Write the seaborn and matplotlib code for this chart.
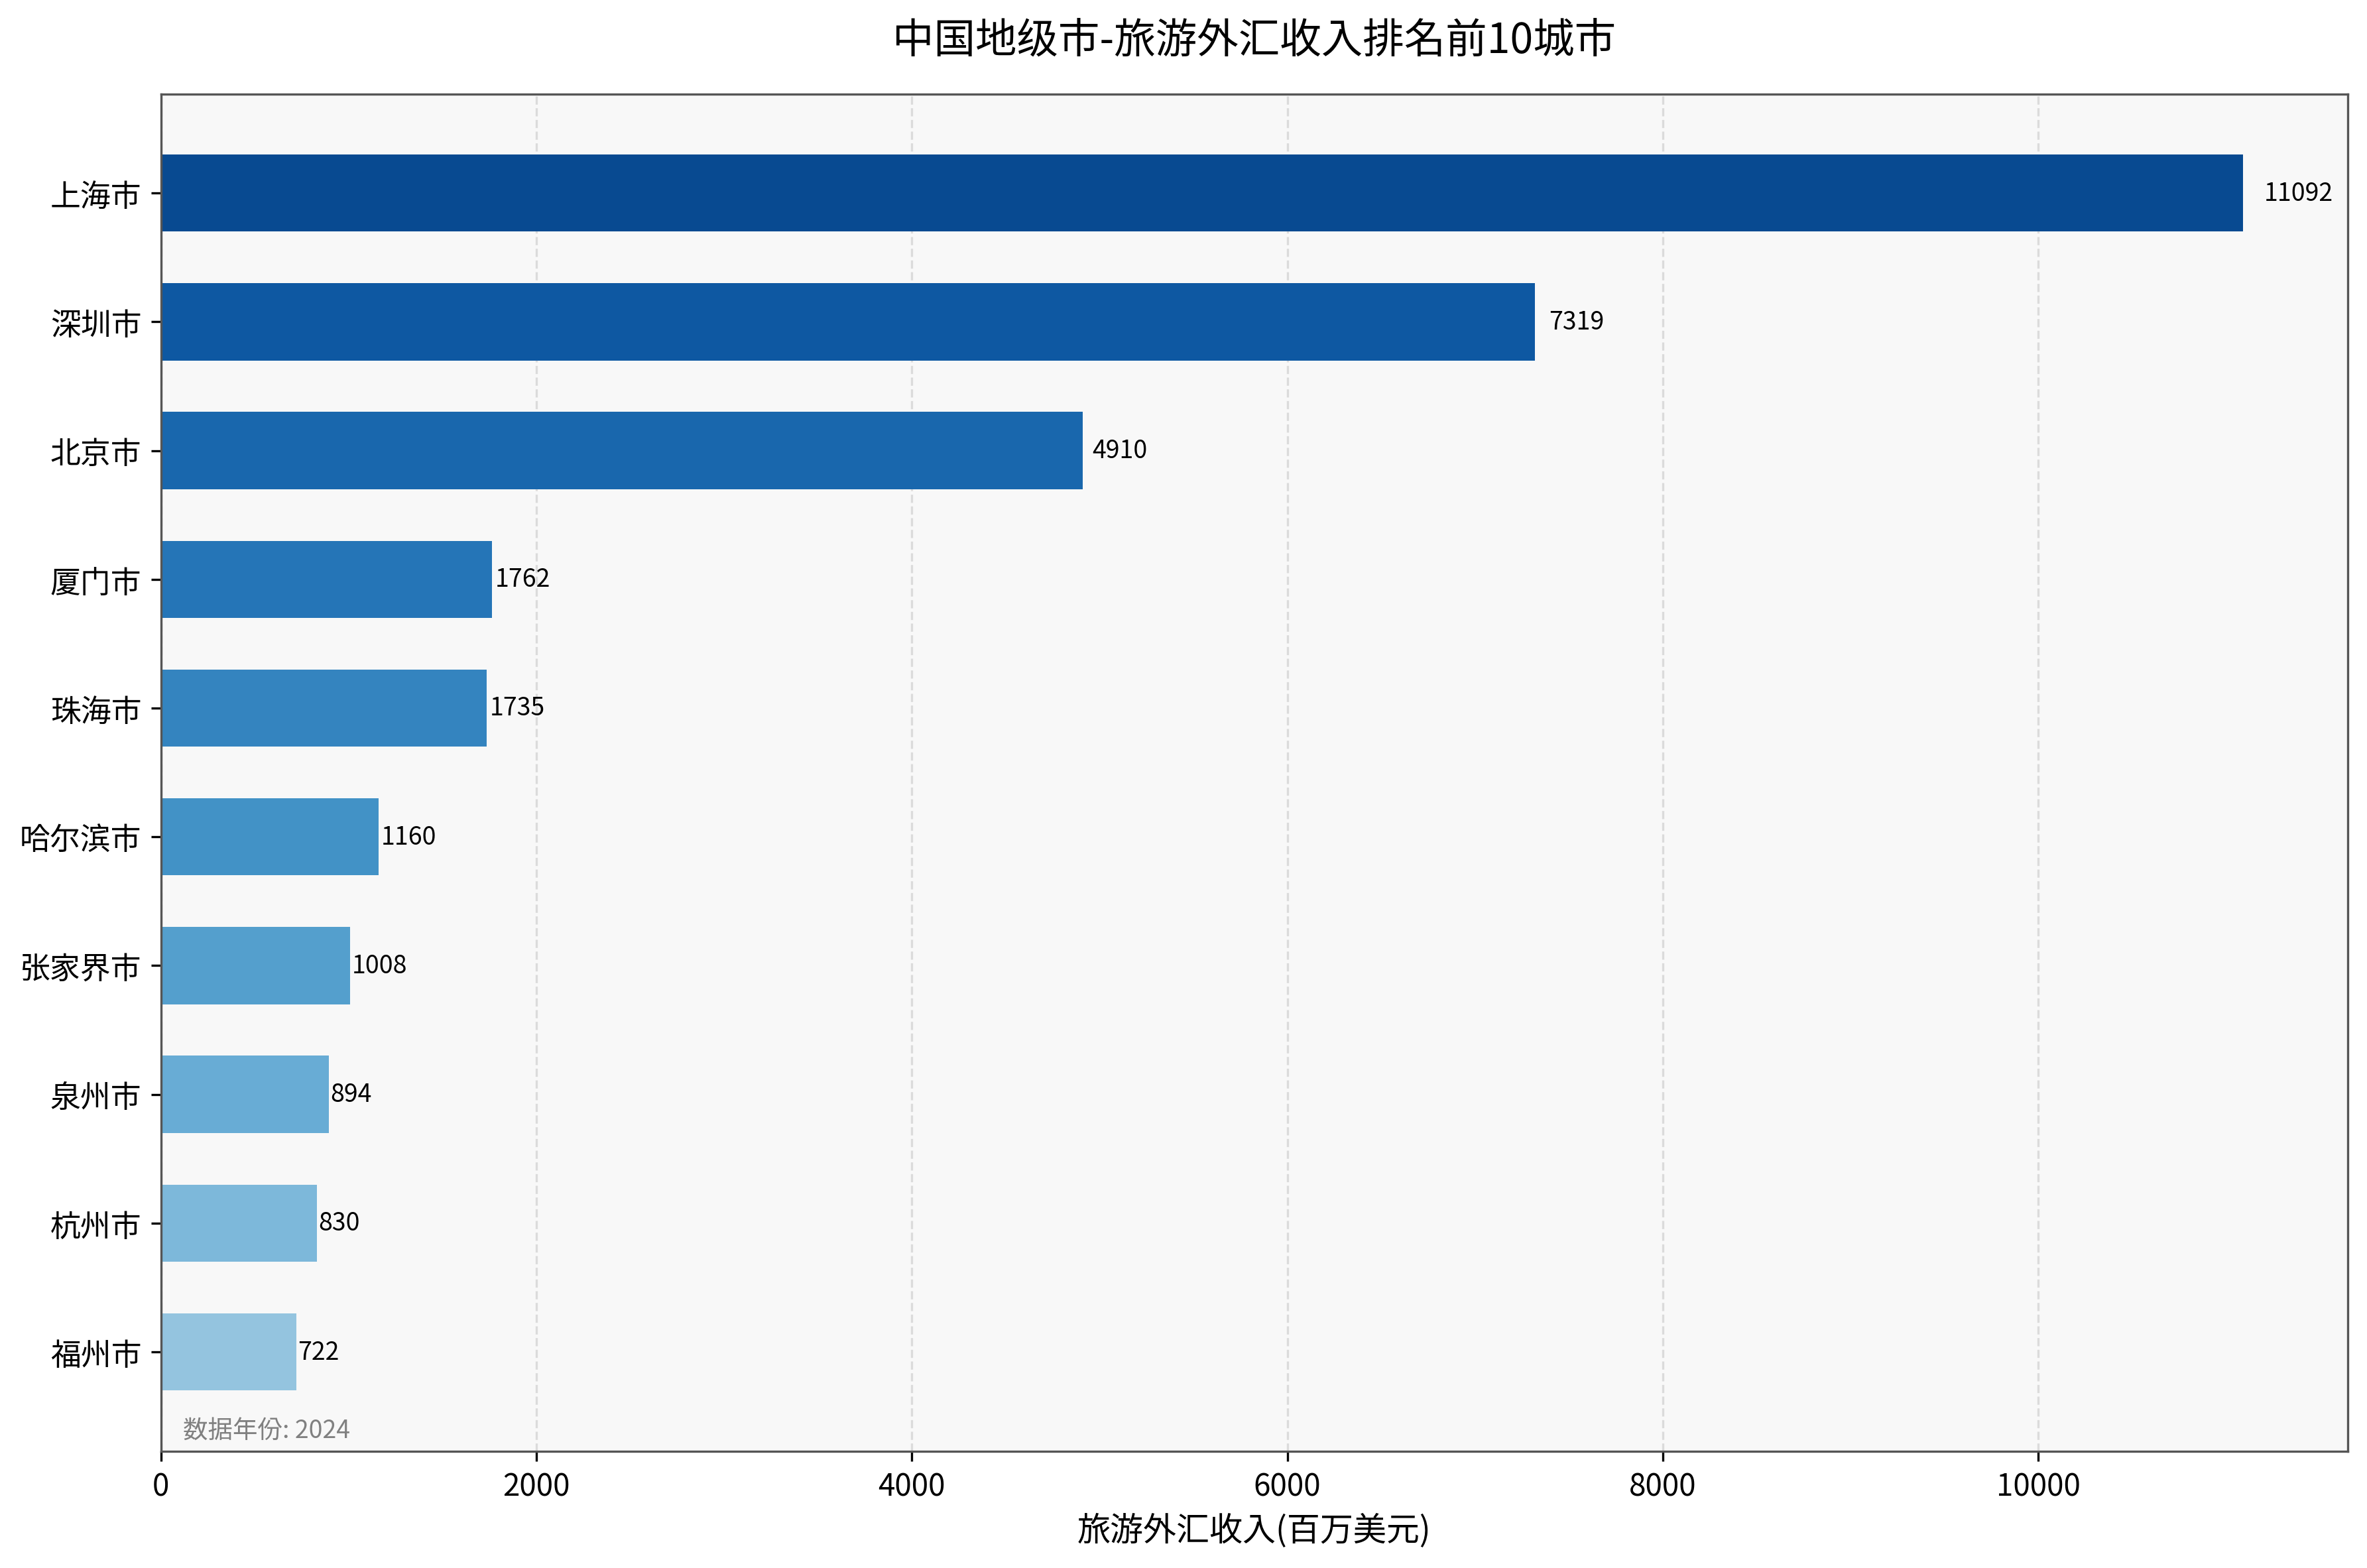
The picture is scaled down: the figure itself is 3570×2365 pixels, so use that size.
import numpy as np
import pandas as pd
import matplotlib
matplotlib.use("Agg")
import matplotlib.pyplot as plt
from matplotlib import font_manager
import seaborn as sns

# pick up a CJK font explicitly, by file if the family name is not registered
cjk = [f for f in font_manager.findSystemFonts() if "CJK" in f or "cjk" in f]
family = "Noto Sans CJK SC"
for f in cjk:
    try:
        font_manager.fontManager.addfont(f)
    except Exception:
        pass
names = {fe.name for fe in font_manager.fontManager.ttflist}
for cand in ["Noto Sans CJK SC", "Noto Sans CJK JP", "Noto Sans CJK TC", "Noto Sans CJK KR"]:
    if cand in names:
        family = cand
        break
plt.rcParams["font.family"] = [family, "DejaVu Sans"]
plt.rcParams["axes.unicode_minus"] = False

cities = ["上海市", "深圳市", "北京市", "厦门市", "珠海市", "哈尔滨市", "张家界市", "泉州市", "杭州市", "福州市"]
income = [11092, 7319, 4910, 1762, 1735, 1160, 1008, 894, 830, 722]

df = pd.DataFrame({"city": cities, "income": income})
colors = plt.cm.Blues(np.linspace(0.9, 0.4, len(cities)))

fig, ax = plt.subplots(figsize=(12, 8))
ax.set_facecolor("#f8f8f8")
sns.barplot(data=df, x="income", y="city", hue="city", palette=list(colors),
            saturation=1, legend=False, width=0.6, ax=ax, zorder=2)

for i, v in enumerate(income):
    ax.text(v * 1.01, i, f"{v}", va="center", ha="left", fontsize=9)

ax.set_xlim(0, max(income) * 1.05)
ax.set_ylim(len(cities) - 0.23, -0.77)
ax.grid(axis="x", linestyle="--", alpha=0.4, zorder=0)
ax.set_axisbelow(True)
ax.set_ylabel("")
ax.set_xlabel("旅游外汇收入(百万美元)", fontsize=12)
ax.tick_params(axis="both", labelsize=11)
ax.set_title("中国地级市-旅游外汇收入排名前10城市", fontsize=15, pad=15)
for s in ax.spines.values():
    s.set_color("#555555")
ax.text(0.01, 0.01, "数据年份: 2024", transform=ax.transAxes, color="gray", fontsize=9)

plt.tight_layout()
plt.savefig("out.png", dpi=300, bbox_inches="tight")
